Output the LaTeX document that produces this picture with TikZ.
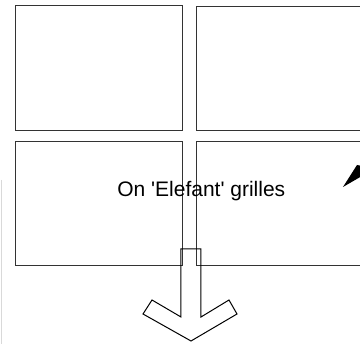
\documentclass[tikz,border=0pt]{standalone}
\usepackage{fontspec}
\setmainfont{Liberation Sans}[Ligatures=TeXOff]
\usepackage{xcolor}
\usepackage{tikz}
\usetikzlibrary{shapes}
\tikzstyle{grille}=[rectangle,draw=black!80,line width=1pt,inner sep=0pt,outer sep=0pt]
\tikzstyle{label}=[inner sep=0pt,font=\fontsize{21}{25}\selectfont]

\begin{document}
\begin{tikzpicture}[x=1pt,y=-1pt]
        \useasboundingbox (0,0) rectangle (360,344);
        \clip (0,0) rectangle (360,344);
        \draw[black!15] (1,180) -- (1,344);
        \node at ( 99.5, 68.5) [grille,minimum width=167pt,minimum height=125pt] (TL) {};
        \node at (288.5, 69.0) [grille,minimum width=183pt,minimum height=124pt] (TR) {};
        \node at ( 99.5,204.0) [grille,minimum width=167pt,minimum height=124pt] (BL) {};
        \node at (288.5,204.0) [grille,minimum width=183pt,minimum height=124pt] (BR) {};
        \node at (201.3,196.7) [label,anchor=base] (L) {On 'Elefant' grilles};
        \draw [black,line width=1pt,line join=miter] (181,249) -- (201,249) -- (201,317) -- (229,300)
              -- (237,314) -- (191,341) -- (143,314) -- (152,300) -- (181,317) -- cycle;
        \fill [black] (343,187) -- (357,165) -- (362,166) -- (362,176) -- cycle;
      \end{tikzpicture}
\end{document}
